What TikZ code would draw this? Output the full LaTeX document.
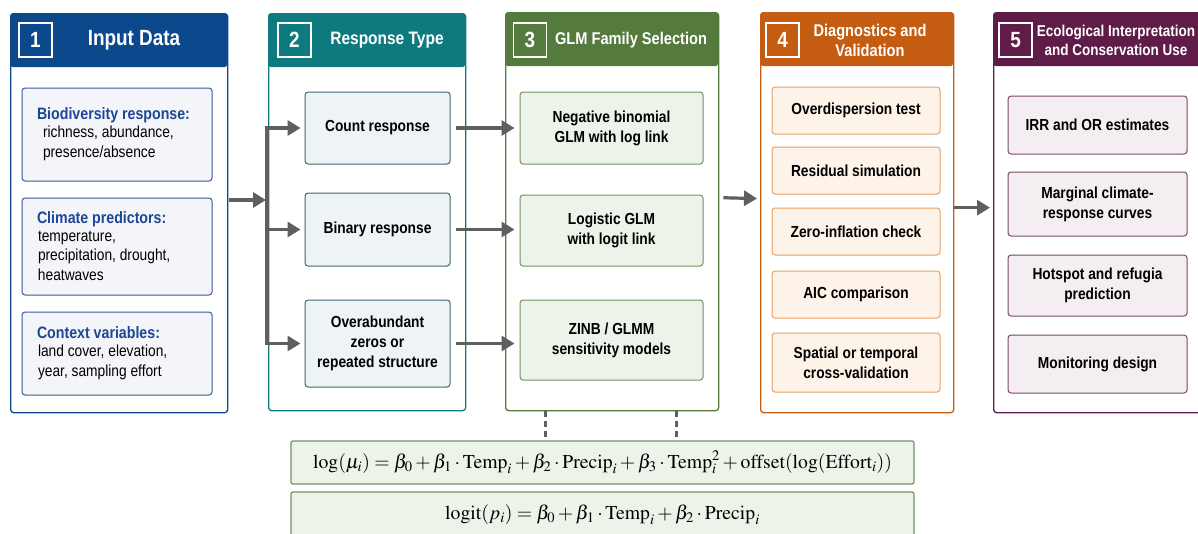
\documentclass[tikz,border=0pt]{standalone}
\usepackage{amsmath}
\usepackage{mathptmx}
\usepackage[no-math]{fontspec}
\setmainfont[FakeStretch=0.86]{Liberation Sans}
\usetikzlibrary{arrows.meta}
\definecolor{inhead}{RGB}{12,72,140}
\definecolor{inline}{RGB}{60,90,150}
\definecolor{infill}{RGB}{243,245,248}
\definecolor{intext}{RGB}{30,70,150}
\definecolor{rshead}{RGB}{14,122,128}
\definecolor{rsline}{RGB}{60,105,110}
\definecolor{rsfill}{RGB}{238,244,245}
\definecolor{glhead}{RGB}{84,122,62}
\definecolor{glline}{RGB}{110,148,96}
\definecolor{glfill}{RGB}{238,243,234}
\definecolor{dghead}{RGB}{196,92,18}
\definecolor{dgline}{RGB}{232,160,96}
\definecolor{dgfill}{RGB}{253,243,232}
\definecolor{ushead}{RGB}{96,28,72}
\definecolor{usline}{RGB}{122,74,106}
\definecolor{usfill}{RGB}{244,237,242}
\definecolor{arrowgray}{RGB}{95,95,95}
\tikzset{
    panel/.style={draw=#1, line width=1.3pt, rounded corners=3pt, fill=white,
        anchor=north west, inner sep=0pt},
    head/.style={fill=#1, rounded corners=3pt, anchor=north west, inner sep=0pt,
        minimum height=54pt},
    numbox/.style={draw=white, line width=1.2pt, text=white, minimum width=33pt,
        minimum height=34pt, inner sep=0pt, font=\bfseries\fontsize{22}{24}\selectfont},
    headtxt/.style={text=white, align=center, inner sep=0pt,
        font=\bfseries\fontsize{18}{20}\selectfont},
    item/.style n args={2}{draw=#1, fill=#2, line width=1pt, rounded corners=3pt,
        align=center, inner sep=0pt, font=\bfseries\fontsize{16}{20}\selectfont},
    arr/.style={draw=arrowgray, line width=3.2pt, -{Triangle[length=13pt,width=15pt]}},
    dashline/.style={draw=arrowgray, line width=2.4pt, dash pattern=on 6pt off 4pt},
    formula/.style={draw=glline, fill=glfill, line width=1.2pt, rounded corners=2pt,
        inner sep=0pt, minimum width=623pt, font=\fontsize{19.7}{22}\selectfont}
}
\begin{document}
\begin{tikzpicture}[x=1pt, y=-1pt]
    \useasboundingbox[fill=white] (0,0) rectangle (1198,533);

    \node[panel=inhead, minimum width=217pt, minimum height=399pt] (in) at (10,13) {};
    \node[head=inhead, minimum width=217pt] (inh) at (10,13) {};
    \node[numbox] (innum) at (35.5,40) {1};
    \node[headtxt, font=\bfseries\fontsize{22}{24}\selectfont] (intitle) at (134,40) {Input Data};
    \node[item={inline}{infill}, minimum width=190pt, minimum height=93pt] (bio) at (117,134.5)
        {\begin{minipage}{160pt}\raggedright\fontsize{16.5}{20}\selectfont\textcolor{intext}{Biodiversity response:}\\[-1pt]
        {\mdseries\fontsize{16}{19}\selectfont\hspace*{6pt}richness, abundance,\\\hspace*{6pt}presence/absence}\end{minipage}};
    \node[item={inline}{infill}, minimum width=190pt, minimum height=97pt] (clim) at (117,246.5)
        {\begin{minipage}{160pt}\raggedright\fontsize{16.5}{20}\selectfont\textcolor{intext}{Climate predictors:}\\[-1pt]
        {\mdseries\fontsize{16}{19}\selectfont\hspace*{1pt}temperature,\\\hspace*{1pt}precipitation, drought,\\\hspace*{1pt}heatwaves}\end{minipage}};
    \node[item={inline}{infill}, minimum width=190pt, minimum height=83pt] (ctx) at (117,353.5)
        {\begin{minipage}{160pt}\raggedright\fontsize{16.5}{20}\selectfont\textcolor{intext}{Context variables:}\\[-1pt]
        {\mdseries\fontsize{16}{19}\selectfont\hspace*{1pt}land cover, elevation,\\\hspace*{1pt}year, sampling effort}\end{minipage}};

    \node[panel=rshead, minimum width=197pt, minimum height=397pt] (rs) at (268,13) {};
    \node[head=rshead, minimum width=197pt] (rsh) at (268,13) {};
    \node[numbox] (rsnum) at (294.5,40) {2};
    \node[headtxt] (rstitle) at (387,40) {Response Type};
    \node[item={rsline}{rsfill}, minimum width=145pt, minimum height=72pt] (count) at (377.5,128) {Count response};
    \node[item={rsline}{rsfill}, minimum width=145pt, minimum height=73pt] (binary) at (377.5,229.5) {Binary response};
    \node[item={rsline}{rsfill}, minimum width=145pt, minimum height=87pt] (zeros) at (377.5,343.5)
        {Overabundant\\zeros or\\repeated structure};

    \node[panel=glhead, minimum width=213pt, minimum height=398pt] (gl) at (505,12) {};
    \node[head=glhead, minimum width=213pt] (glh) at (505,12) {};
    \node[numbox] (glnum) at (530,40) {3};
    \node[headtxt, font=\bfseries\fontsize{17}{20}\selectfont] (gltitle) at (631,40) {GLM Family Selection};
    \node[item={glline}{glfill}, minimum width=183pt, minimum height=72pt] (negbin) at (611.5,128)
        {Negative binomial\\GLM with log link};
    \node[item={glline}{glfill}, minimum width=183pt, minimum height=71pt] (logit) at (611.5,230.5)
        {Logistic GLM\\with logit link};
    \node[item={glline}{glfill}, minimum width=183pt, minimum height=80pt] (zinb) at (611.5,340)
        {ZINB / GLMM\\sensitivity models};

    \node[panel=dghead, minimum width=193pt, minimum height=400pt] (dg) at (760,12) {};
    \node[head=dghead, minimum width=193pt] (dgh) at (760,12) {};
    \node[numbox] (dgnum) at (782.5,40) {4};
    \node[headtxt, font=\bfseries\fontsize{17}{20}\selectfont] (dgtitle) at (870,40) {Diagnostics and\\Validation};
    \node[item={dgline}{dgfill}, minimum width=168pt, minimum height=47pt] (overd) at (856,110.5) {Overdispersion test};
    \node[item={dgline}{dgfill}, minimum width=168pt, minimum height=47pt] (resid) at (856,170.5) {Residual simulation};
    \node[item={dgline}{dgfill}, minimum width=168pt, minimum height=47pt] (zinf) at (856,231.5) {Zero-inflation check};
    \node[item={dgline}{dgfill}, minimum width=168pt, minimum height=47pt] (aic) at (856,294.5) {AIC comparison};
    \node[item={dgline}{dgfill}, minimum width=168pt, minimum height=59pt] (cv) at (856,362.5)
        {Spatial or temporal\\cross-validation};

    \node[panel=ushead, minimum width=215pt, minimum height=400pt] (us) at (993,12) {};
    \node[head=ushead, minimum width=215pt] (ush) at (993,12) {};
    \node[numbox] (usnum) at (1015.5,40) {5};
    \node[headtxt, font=\bfseries\fontsize{15.7}{19}\selectfont] (ustitle) at (1116,40)
        {Ecological Interpretation\\and Conservation Use};
    \node[item={usline}{usfill}, minimum width=179pt, minimum height=58pt] (irr) at (1097.5,125) {IRR and OR estimates};
    \node[item={usline}{usfill}, minimum width=179pt, minimum height=64pt] (curves) at (1097.5,204)
        {Marginal climate-\\response curves};
    \node[item={usline}{usfill}, minimum width=179pt, minimum height=61pt] (hot) at (1097.5,285.5)
        {Hotspot and refugia\\prediction};
    \node[item={usline}{usfill}, minimum width=179pt, minimum height=58pt] (mon) at (1097.5,364) {Monitoring design};

    \node[formula, minimum height=43pt] (lognb) at (602.5,462.5)
        {$\log(\mu_i) = \beta_0 + \beta_1\cdot\mathrm{Temp}_i + \beta_2\cdot\mathrm{Precip}_i
        + \beta_3\cdot\mathrm{Temp}_i^2 + \mathrm{offset}(\log(\mathrm{Effort}_i))$};
    \node[formula, minimum height=46pt] (logreg) at (602.5,515)
        {$\mathrm{logit}(p_i) = \beta_0 + \beta_1\cdot\mathrm{Temp}_i + \beta_2\cdot\mathrm{Precip}_i$};

    \coordinate (split) at (267,200);
    \draw[arr, shorten >=4pt] (split) |- (count.west);
    \draw[arr, shorten >=4pt] (split) |- (binary.west);
    \draw[arr, shorten >=4pt] (split) |- (zeros.west);
    \draw[draw=arrowgray, line width=3.2pt] (split |- count.west) -- (split |- zeros.west);
    \draw[arr] ([xshift=1pt]split -| in.east) -- ([xshift=-1pt]split);

    \draw[arr, shorten <=5pt, shorten >=5pt] (count.east) -- (count.east -| negbin.west);
    \draw[arr, shorten <=5pt, shorten >=5pt] (binary.east) -- (binary.east -| logit.west);
    \draw[arr, shorten <=5pt, shorten >=5pt] (zeros.east) -- (zeros.east -| zinb.west);
    \draw[arr, shorten <=4pt, shorten >=3pt] ([yshift=14pt]gl.east) -- ([yshift=14pt]dg.west);
    \draw[arr, shorten >=3pt] ([yshift=5pt]dg.east) -- ([yshift=5pt]us.west);

    \draw[dashline] ([xshift=-66.5pt]gl.south) -- ([xshift=-66.5pt]gl.south |- lognb.north);
    \draw[dashline] ([xshift=64.5pt]gl.south) -- ([xshift=64.5pt]gl.south |- lognb.north);
\end{tikzpicture}
\end{document}
